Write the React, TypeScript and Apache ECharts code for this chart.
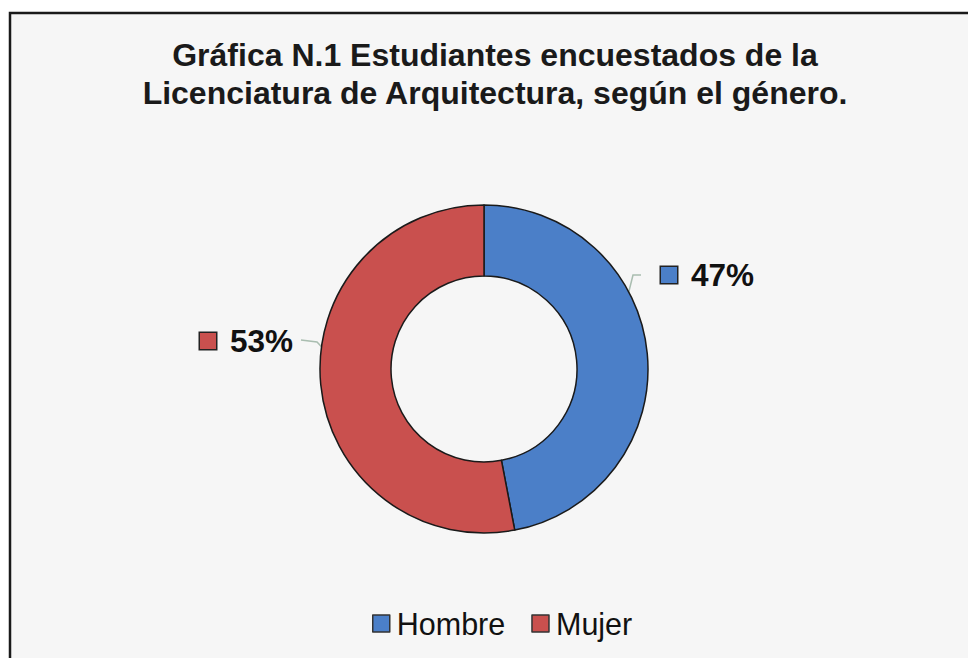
import React, { useEffect, useRef } from "react";
import * as echarts from "echarts";

const categories = ["Hombre", "Mujer"];
const values = [47, 53];
const colors = ["#4b7fc8", "#c9504e"];
const titleLines = [
  "Gráfica N.1 Estudiantes encuestados de la",
  "Licenciatura de Arquitectura, según el género.",
];

// label placements (layout only)
const labelPos = [
  { x: 661, y: 275, line: [[613, 355], [633, 275], [641, 275]] },
  { x: 200, y: 341, line: [[355, 382], [317, 342], [301, 340]] },
];

export default function App() {
  const ref = useRef<HTMLDivElement>(null);
  useEffect(() => {
    if (!ref.current) return;
    const chart = echarts.init(ref.current, null, { renderer: "svg" });
    const font = "'Liberation Sans', Arial, Helvetica, sans-serif";
    chart.setOption({
      animation: false,
      backgroundColor: "#ffffff",
      graphic: [
        {
          type: "rect",
          shape: { x: 10, y: 13, width: 1000, height: 700 },
          style: { fill: "#f6f6f6", stroke: "#1a1a1a", lineWidth: 2.5 },
          z: -10,
          silent: true,
        },
      ],
      title: {
        text: titleLines.join("\n"),
        left: 490,
        top: 31,
        textAlign: "center",
        textStyle: {
          fontFamily: font,
          fontWeight: "bold",
          fontSize: 32,
          lineHeight: 38,
          color: "#1a1a1a",
        },
      },
      legend: {
        data: categories,
        left: 367,
        top: 603,
        itemWidth: 17,
        itemHeight: 17,
        itemGap: 26,
        icon: "rect",
        itemStyle: { borderColor: "#333", borderWidth: 1.5 },
        textStyle: { fontFamily: font, fontSize: 30.5, color: "#111", padding: [0, 0, 0, 2] },
      },
      series: [
        {
          type: "pie",
          center: [484, 369],
          radius: [93, 164],
          startAngle: 90,
          clockwise: true,
          avoidLabelOverlap: false,
          itemStyle: {
            borderColor: "#1a1a1a",
            borderWidth: 1.5,
          },
          label: {
            show: true,
            position: "outside",
            formatter: (p: any) => `{m${p.dataIndex}|}{v|${Math.round(p.percent)}%}`,
            rich: {
              m0: {
                width: 16,
                height: 16,
                backgroundColor: colors[0],
                borderColor: "#222",
                borderWidth: 1.5,
              },
              m1: {
                width: 16,
                height: 16,
                backgroundColor: colors[1],
                borderColor: "#222",
                borderWidth: 1.5,
              },
              v: {
                fontFamily: font,
                fontWeight: "bold",
                fontSize: 31.5,
                color: "#111",
                padding: [0, 0, 0, 14],
              },
            },
          },
          labelLine: {
            show: true,
            lineStyle: { color: "#a9bdb0", width: 1.5 },
          },
          labelLayout: (params: any) => {
            const lp = labelPos[params.dataIndex];
            return {
              x: lp.x,
              y: lp.y,
              align: "left",
              verticalAlign: "middle",
              labelLinePoints: lp.line,
            };
          },
          emphasis: { disabled: true },
          data: categories.map((name, i) => ({
            name,
            value: values[i],
            itemStyle: { color: colors[i] },
          })),
        },
      ],
    });
    return () => chart.dispose();
  }, []);
  return (
    <div
      ref={ref}
      style={{ position: "fixed", left: 0, top: 0, width: 968, height: 658 }}
    />
  );
}
